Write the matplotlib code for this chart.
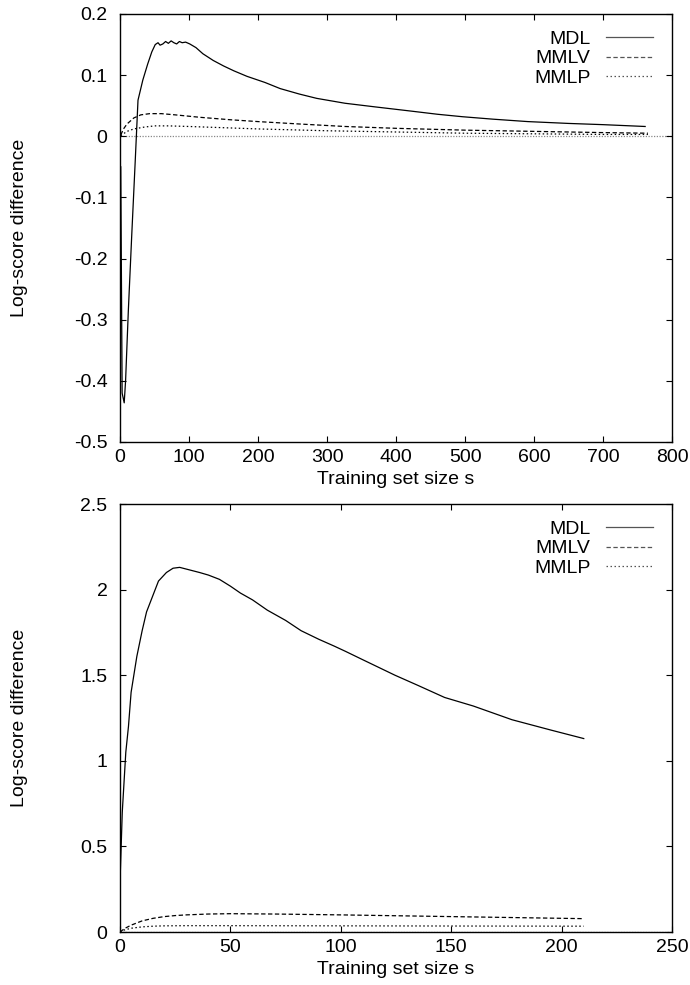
import matplotlib
matplotlib.use('Agg')
import matplotlib.pyplot as plt

plt.rcParams['font.family'] = ['Liberation Sans', 'DejaVu Sans']
plt.rcParams['font.size'] = 14

# top panel
top_mdl_x = [1, 3, 6, 8, 12, 17, 22, 26, 33, 40, 46, 51, 55, 58, 62, 66, 70, 74, 78, 82,
             86, 90, 95, 101, 110, 120, 135, 150, 165, 184, 210, 232, 260, 285, 326, 370,
             423, 460, 496, 540, 591, 650, 700, 761]
top_mdl_y = [-0.05, -0.42, -0.436, -0.40, -0.285, -0.16, -0.04, 0.059, 0.092, 0.118, 0.138,
             0.150, 0.153, 0.149, 0.151, 0.155, 0.152, 0.156, 0.153, 0.151, 0.155, 0.153,
             0.154, 0.151, 0.145, 0.135, 0.124, 0.115, 0.107, 0.098, 0.088, 0.078, 0.069,
             0.062, 0.054, 0.048, 0.041, 0.036, 0.032, 0.028, 0.024, 0.021, 0.019, 0.016]
top_mmlv_x = [1, 5, 10, 20, 30, 43, 60, 80, 116, 160, 200, 261, 326, 400, 500, 600, 700, 765]
top_mmlv_y = [0.002, 0.012, 0.020, 0.030, 0.035, 0.037, 0.037, 0.035, 0.031, 0.027, 0.024,
              0.020, 0.016, 0.013, 0.010, 0.008, 0.006, 0.005]
top_mmlp_x = [1, 10, 20, 35, 50, 70, 100, 150, 200, 300, 400, 500, 600, 700, 765]
top_mmlp_y = [0.001, 0.008, 0.012, 0.015, 0.017, 0.017, 0.016, 0.014, 0.012, 0.009, 0.007,
              0.005, 0.004, 0.003, 0.003]

# bottom panel
bot_mdl_x = [0, 1, 2.6, 3.8, 5, 7.6, 10, 12, 15, 17.4, 21, 24, 27, 30, 33, 36, 40, 45, 50,
             54.5, 60, 66.7, 75, 82, 90, 97, 102, 110, 124.5, 135, 147, 160, 177.5, 195, 210]
bot_mdl_y = [0.3, 0.7, 1.05, 1.2, 1.4, 1.61, 1.76, 1.87, 1.97, 2.05, 2.1, 2.125, 2.13, 2.12,
             2.11, 2.10, 2.085, 2.06, 2.02, 1.98, 1.94, 1.88, 1.82, 1.76, 1.71, 1.67, 1.64,
             1.59, 1.5, 1.44, 1.37, 1.32, 1.24, 1.18, 1.13]
bot_mmlv_x = [0, 2, 5, 10, 15, 20, 25, 30, 40, 50, 70, 100, 130, 160, 190, 210]
bot_mmlv_y = [0, 0.02, 0.04, 0.065, 0.08, 0.09, 0.096, 0.1, 0.105, 0.107, 0.105, 0.1, 0.094,
              0.088, 0.082, 0.078]
bot_mmlp_x = [0, 2, 5, 10, 15, 20, 30, 50, 100, 150, 210]
bot_mmlp_y = [0, 0.012, 0.022, 0.03, 0.034, 0.036, 0.037, 0.037, 0.036, 0.035, 0.034]

fig = plt.figure(figsize=(6.9, 9.85), dpi=100)
ax1 = fig.add_axes([0.174, 0.5513, 0.8, 0.4345])
ax2 = fig.add_axes([0.174, 0.0538, 0.8, 0.4345])


def draw(ax, mdl, mmlv, mmlp, xlim, ylim, xticks, yticks):
    ax.axhline(0, color='#888888', lw=0.9, ls=(0, (1, 1.2)), zorder=1)
    ax.plot(*mdl, color='black', lw=0.9, label='MDL')
    ax.plot(*mmlv, color='black', lw=0.9, ls=(0, (3.5, 2)), label='MMLV')
    ax.plot(*mmlp, color='black', lw=0.9, ls=(0, (1.2, 2)), label='MMLP')
    ax.set_xlim(*xlim)
    ax.set_ylim(*ylim)
    ax.set_xticks(xticks)
    ax.set_yticks(yticks)
    ax.set_yticklabels(['%g' % v for v in yticks])
    ax.tick_params(direction='in', top=True, right=True, length=4.5, width=0.8)
    ax.tick_params(axis='y', pad=9)
    ax.tick_params(axis='x', pad=5)
    for s in ax.spines.values():
        s.set_linewidth(1.0)
    ax.set_xlabel('Training set size s')
    ax.set_ylabel('Log-score difference')
    ax.xaxis.set_label_coords(0.5, -0.068)
    ax.yaxis.set_label_coords(-0.167, 0.5)
    leg = ax.legend(loc='upper right', bbox_to_anchor=(0.965, 0.962), frameon=False,
                    markerfirst=False, handlelength=2.4, handletextpad=0.8,
                    labelspacing=0.1, borderpad=0, borderaxespad=0)
    for h in leg.get_lines():
        h.set_color('#555555')


draw(ax1, (top_mdl_x, top_mdl_y), (top_mmlv_x, top_mmlv_y), (top_mmlp_x, top_mmlp_y),
     (0, 800), (-0.5, 0.2), range(0, 801, 100),
     [-0.5, -0.4, -0.3, -0.2, -0.1, 0, 0.1, 0.2])
draw(ax2, (bot_mdl_x, bot_mdl_y), (bot_mmlv_x, bot_mmlv_y), (bot_mmlp_x, bot_mmlp_y),
     (0, 250), (0, 2.5), range(0, 251, 50),
     [0, 0.5, 1, 1.5, 2, 2.5])

fig.savefig('out.png', dpi=100)
